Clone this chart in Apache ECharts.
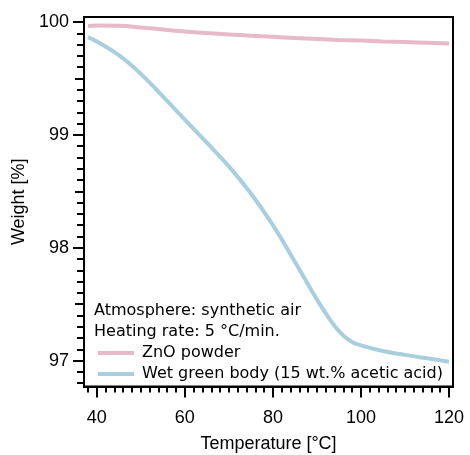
<!DOCTYPE html>
<html>
<head>
<meta charset="utf-8">
<title>TGA</title>
<script src="https://cdn.jsdelivr.net/npm/echarts@6/dist/echarts.min.js"></script>
<style>
  html, body { margin: 0; padding: 0; background: #fff; }
  #container { width: 470px; height: 455px; }
</style>
</head>
<body>
<div id="container"></div>
<script>
// data
var znoTemps = [38, 40, 45, 50, 55, 60, 65, 70, 75, 80, 85, 90, 95, 100, 105, 110, 115, 120];
var znoWeights = [99.965, 99.968, 99.966, 99.952, 99.933, 99.916, 99.902, 99.89, 99.878, 99.868, 99.858, 99.849, 99.841, 99.835, 99.828, 99.822, 99.816, 99.81];

var wetTemps = [38, 40, 45, 50, 55, 60, 65, 70, 75, 80, 85, 90, 92.5, 95, 97.5, 100, 105, 110, 115, 120];
var wetWeights = [99.865, 99.826, 99.706, 99.54, 99.34, 99.135, 98.93, 98.72, 98.48, 98.20, 97.875, 97.54, 97.39, 97.26, 97.175, 97.135, 97.085, 97.05, 97.02, 96.99];

var xMajorTicks = [40, 60, 80, 100, 120];
var yMajorTicks = [97, 98, 99, 100];
var yMidTicks = [97.5, 98.5, 99.5];

var seriesNames = ['ZnO powder', 'Wet green body (15 wt.% acetic acid)'];
var noteLines = ['Atmosphere: synthetic air', 'Heating rate: 5 °C/min.'];

var xMin = 37.1, xMax = 120.9;
var yMin = 96.77, yMax = 100.044;

function pairs(xs, ys) {
    var out = [];
    for (var i = 0; i < xs.length; i++) out.push([xs[i], ys[i]]);
    return out;
}
// minor tick positions
var xMinorTicks = [];
for (var t = 38; t <= 120; t += 2) xMinorTicks.push(t);
var yMinorTicks = [];
for (var k = 968; k <= 1000; k++) yMinorTicks.push(k / 10);

var black = '#000';
var lab = { fontFamily: 'Liberation Sans', fontSize: 18, color: black };

function tickAxis(type, ticks, len, extra) {
    var a = {
        type: 'value',
        min: type === 'x' ? xMin : yMin,
        max: type === 'x' ? xMax : yMax,
        position: type === 'x' ? 'bottom' : 'left',
        axisLine: { show: true, onZero: false, lineStyle: { color: black, width: 2 } },
        axisTick: { show: true, customValues: ticks, length: len, lineStyle: { color: black, width: 2 } },
        axisLabel: { show: false },
        splitLine: { show: false }
    };
    for (var key in extra) a[key] = extra[key];
    return a;
}

var myChart = echarts.init(document.getElementById('container'));
var option = {
    animation: false,
    grid: {
        left: 84, top: 17, right: 17, bottom: 68.5,
        containLabel: false,
        outerBoundsMode: 'none',
        show: true, borderColor: black, borderWidth: 2
    },
    xAxis: [
        tickAxis('x', xMajorTicks, 11, {
            name: 'Temperature [°C]',
            nameLocation: 'middle',
            nameGap: 49,
            nameTextStyle: lab,
            axisLabel: { show: true, customValues: xMajorTicks, margin: 23, fontFamily: 'Liberation Sans', fontSize: 18, color: black }
        }),
        tickAxis('x', xMinorTicks, 6, {})
    ],
    yAxis: [
        tickAxis('y', yMajorTicks, 11, {
            name: 'Weight [%]',
            nameLocation: 'middle',
            nameGap: 50,
            nameTextStyle: lab,
            axisLabel: { show: true, customValues: yMajorTicks, margin: 15, fontFamily: 'Liberation Sans', fontSize: 18, color: black }
        }),
        tickAxis('y', yMidTicks, 9, {}),
        tickAxis('y', yMinorTicks, 7, {})
    ],
    legend: {
        orient: 'vertical',
        left: 98,
        top: 345,
        itemGap: 5,
        itemWidth: 36,
        itemHeight: 4,
        icon: 'rect',
        padding: 0,
        textStyle: { fontFamily: 'DejaVu Sans', fontSize: 16, lineHeight: 16, color: black, padding: [0, 0, 0, 3] },
        data: seriesNames
    },
    graphic: [
        { type: 'text', left: 94, top: 303, style: { text: noteLines[0], font: '16px "DejaVu Sans"', fill: black } },
        { type: 'text', left: 94, top: 324, style: { text: noteLines[1], font: '16px "DejaVu Sans"', fill: black } }
    ],
    series: [
        {
            name: seriesNames[0],
            type: 'line',
            data: pairs(znoTemps, znoWeights),
            smooth: 0.5,
            showSymbol: false,
            color: '#e8b9ca',
            lineStyle: { width: 4, color: '#e8b9ca' }
        },
        {
            name: seriesNames[1],
            type: 'line',
            data: pairs(wetTemps, wetWeights),
            smooth: 0.5,
            showSymbol: false,
            color: '#a9cfdf',
            lineStyle: { width: 4, color: '#a9cfdf' }
        }
    ]
};
myChart.setOption(option);
</script>
</body>
</html>
